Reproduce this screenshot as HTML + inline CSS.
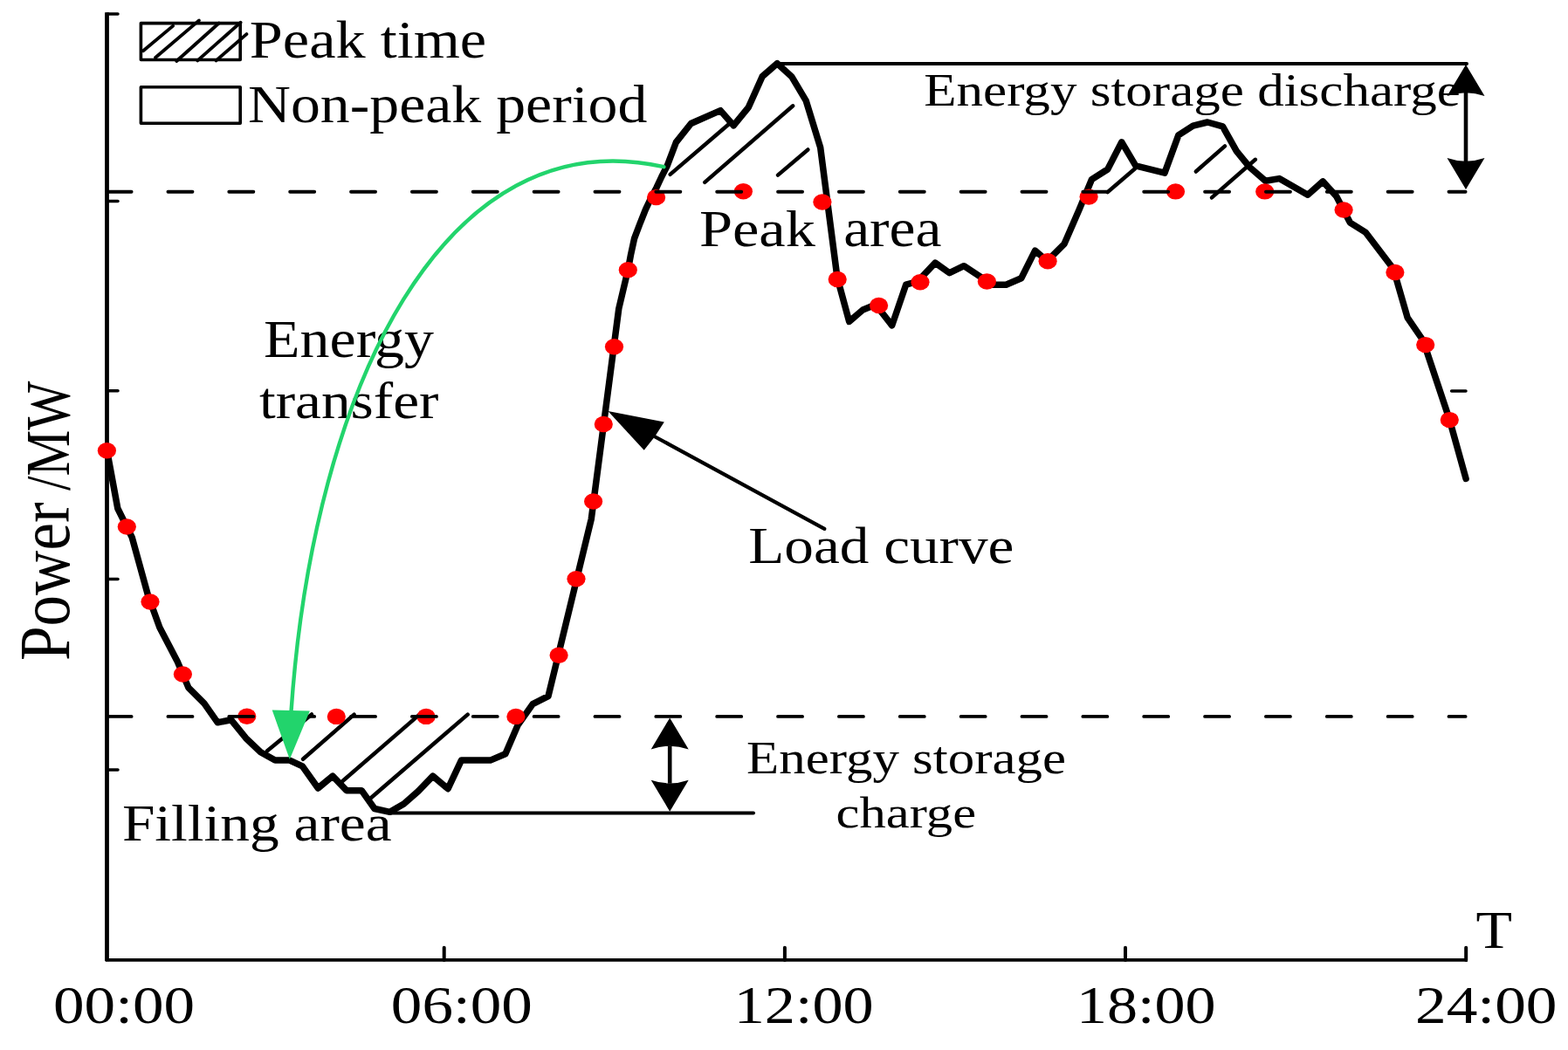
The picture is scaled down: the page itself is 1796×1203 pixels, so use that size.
<!DOCTYPE html><html><head><meta charset="utf-8"><style>html,body{margin:0;padding:0;background:#fff;overflow:hidden}svg{display:block}text{font-family:"Liberation Serif","Times New Roman",serif;font-size:100px;fill:#000}</style></head><body>
<svg width="1796" height="1203" viewBox="0 0 1796 1203">
<rect width="100%" height="100%" fill="#fff"/>
<g stroke="#000" fill="none" stroke-linecap="round">
<line x1="122.5" y1="14.3" x2="122.5" y2="1101.2" stroke-width="4.8" stroke-linecap="butt"/>
<line x1="121" y1="1099.9" x2="1681" y2="1099.9" stroke-width="3.9" stroke-linecap="butt"/>
<line x1="122.5" y1="16" x2="135" y2="16" stroke-width="3.5"/>
<line x1="122.5" y1="230.4" x2="135" y2="230.4" stroke-width="3.5"/>
<line x1="122.5" y1="447.8" x2="135" y2="447.8" stroke-width="3.5"/>
<line x1="122.5" y1="663.5" x2="135" y2="663.5" stroke-width="3.5"/>
<line x1="122.5" y1="881.9" x2="135" y2="881.9" stroke-width="3.5"/>
<line x1="1662.6" y1="448" x2="1679" y2="448" stroke-width="3.5"/>
<line x1="508.7" y1="1085.8" x2="508.7" y2="1099.9" stroke-width="4"/>
<line x1="898.9" y1="1085.8" x2="898.9" y2="1099.9" stroke-width="4"/>
<line x1="1289" y1="1085.8" x2="1289" y2="1099.9" stroke-width="4"/>
<line x1="1679.2" y1="1085.8" x2="1679.2" y2="1099.9" stroke-width="4"/>
</g>
<polyline points="122.5,516 134.8,582.5 151.3,615.9 169.5,682 182.9,719.1 203,757.4 215.9,787.9 233.9,805.9 249.3,827.8 264.8,824.8 281.7,845.7 298.5,861.8 315.1,871.1 331.8,871.1 346.4,877.8 364.3,903 381,889.1 396.9,905.7 414.2,905.7 429,926.5 446.6,930.3 462.6,921 479.2,906.4 495.8,889.1 513.1,903.7 528.4,871.1 561.6,871.1 578.9,863.8 592.9,831.2 610.2,806.6 628,797.7 677.3,594.6 708.8,353.5 719.3,309.2 722.5,292 726.6,273.1 732.9,256.5 739.5,239.9 745.7,226.8 752,214.9 757.8,202.5 764.2,190 774.3,163.2 791.5,141.5 825.2,126.6 840.2,143.8 857.4,122.8 873.1,87.7 890.3,72.7 906.7,87.7 923.2,115.4 939.7,169.2 959,318 972.7,368.4 988.3,355 1003,349 1021.7,372.9 1037.7,326.1 1051,322.5 1071.2,301.1 1087.6,312.7 1104.1,304.7 1136.6,326.2 1152.4,326.2 1169.8,318.7 1185.6,287.1 1199.5,299 1218.9,279.7 1236.3,239.8 1250.4,205.7 1268.7,194 1284.8,162.8 1300.8,189.8 1334,198.1 1349.8,154.9 1366.5,144.1 1383.1,140 1400.5,144.9 1416.3,173.2 1431.3,191.5 1449.6,207.3 1465.3,204.6 1497.9,223.2 1515.2,207.9 1530.5,224.6 1546.4,255.1 1564.4,266.4 1596,308 1612.1,363.8 1630,390 1660.2,480.5 1679.1,548.5" fill="none" stroke="#000" stroke-width="7.5" stroke-linejoin="round" stroke-linecap="round"/>
<g stroke="#000" stroke-width="4.5" stroke-linecap="round" fill="none">
<line x1="305.8" y1="860.5" x2="357" y2="818.5"/>
<line x1="347" y1="869.8" x2="405.6" y2="818.6"/>
<line x1="392.3" y1="895" x2="480.5" y2="818.6"/>
<line x1="424.5" y1="914.5" x2="535.7" y2="818.6"/>
<line x1="767.6" y1="199.9" x2="835.7" y2="141.5"/>
<line x1="807.2" y1="208.9" x2="908.2" y2="121.3"/>
<line x1="891" y1="200.6" x2="925.4" y2="171.5"/>
<line x1="1268.7" y1="220.1" x2="1300" y2="193.2"/>
<line x1="1369.8" y1="196.5" x2="1403" y2="167.4"/>
<line x1="1388" y1="226.4" x2="1437.9" y2="182.8"/>
</g>
<g fill="#ff0000">
<ellipse cx="122.4" cy="516.2" rx="10.6" ry="9.2"/>
<ellipse cx="145.3" cy="603.5" rx="10.6" ry="9.2"/>
<ellipse cx="172" cy="689.5" rx="10.6" ry="9.2"/>
<ellipse cx="209.4" cy="772.5" rx="10.6" ry="9.2"/>
<ellipse cx="282.8" cy="820.8" rx="10.6" ry="9.2"/>
<ellipse cx="385.3" cy="820.9" rx="10.6" ry="9.2"/>
<ellipse cx="488.1" cy="820.9" rx="10.6" ry="9.2"/>
<ellipse cx="590.9" cy="820.9" rx="10.6" ry="9.2"/>
<ellipse cx="640.1" cy="750.8" rx="10.6" ry="9.2"/>
<ellipse cx="660" cy="663.3" rx="10.6" ry="9.2"/>
<ellipse cx="679.6" cy="574.5" rx="10.6" ry="9.2"/>
<ellipse cx="691.3" cy="486" rx="10.6" ry="9.2"/>
<ellipse cx="703.5" cy="397.2" rx="10.6" ry="9.2"/>
<ellipse cx="719.3" cy="309.2" rx="10.6" ry="9.2"/>
<ellipse cx="751.6" cy="226.1" rx="10.6" ry="9.2"/>
<ellipse cx="851.4" cy="219.3" rx="10.6" ry="9.2"/>
<ellipse cx="941.9" cy="231.5" rx="10.6" ry="9.2"/>
<ellipse cx="959.2" cy="320" rx="10.6" ry="9.2"/>
<ellipse cx="1006.6" cy="350" rx="10.6" ry="9.2"/>
<ellipse cx="1054" cy="323.2" rx="10.6" ry="9.2"/>
<ellipse cx="1130.4" cy="322.5" rx="10.6" ry="9.2"/>
<ellipse cx="1200.1" cy="299.3" rx="10.6" ry="9.2"/>
<ellipse cx="1247.1" cy="225.6" rx="10.6" ry="9.2"/>
<ellipse cx="1346.5" cy="219.4" rx="10.6" ry="9.2"/>
<ellipse cx="1448.7" cy="219.4" rx="10.6" ry="9.2"/>
<ellipse cx="1539.1" cy="240.5" rx="10.6" ry="9.2"/>
<ellipse cx="1597.9" cy="312" rx="10.6" ry="9.2"/>
<ellipse cx="1632.7" cy="395.1" rx="10.6" ry="9.2"/>
<ellipse cx="1660.3" cy="481.1" rx="10.6" ry="9.2"/>
</g>
<g stroke="#000" stroke-width="3.9" stroke-linecap="round" fill="none">
<path d="M122.6 219.7H1678.6" stroke-dasharray="28 41.86"/>
<path d="M122.6 820.9H1678.6" stroke-dasharray="28 41.86"/>
</g>
<g stroke="#000" stroke-width="3.6" fill="none" stroke-linecap="round" stroke-linejoin="round">
<rect x="161.4" y="26.6" width="113.8" height="41.9"/>
<rect x="161.4" y="99.8" width="113.8" height="41.4"/>
<line x1="164.0" y1="58.2" x2="198.2" y2="29.6" stroke-width="3.8"/>
<line x1="178.0" y1="66.0" x2="228.0" y2="23.4" stroke-width="3.8"/>
<line x1="202.2" y1="70.0" x2="250.8" y2="26.5" stroke-width="3.8"/>
<line x1="226.3" y1="69.4" x2="275.6" y2="25.7" stroke-width="3.8"/>
<line x1="247.6" y1="69.4" x2="282.4" y2="39.1" stroke-width="3.8"/>
</g>
<g stroke="#000" stroke-width="4" stroke-linecap="round">
<line x1="890.3" y1="73" x2="1680" y2="73"/>
<line x1="446.6" y1="931.6" x2="863" y2="931.6"/>
</g>
<line x1="1679" y1="106" x2="1679" y2="185" stroke="#000" stroke-width="4.6"/>
<path d="M1679 74 L1700.5 110 Q1679 102.6 1657.5 110 Z" fill="#000"/>
<path d="M1679 217 L1700.5 181 Q1679 188.4 1657.5 181 Z" fill="#000"/>
<line x1="767.2" y1="854.4" x2="767.2" y2="897.7" stroke="#000" stroke-width="4.6"/>
<path d="M767.2 822.4 L788.7 858.4 Q767.2 851.0 745.7 858.4 Z" fill="#000"/>
<path d="M767.2 929.7 L788.7 893.7 Q767.2 901.1 745.7 893.7 Z" fill="#000"/>
<line x1="944.3" y1="605.9" x2="745" y2="497.5" stroke="#000" stroke-width="4.2" stroke-linecap="round"/>
<path d="M696.4 471 L760.8 483.5 L750.2 499.9 L737.7 515.8 Z" fill="#000"/>
<g>
<text transform="translate(285.85,65.70) scale(0.6832,0.6076)">Peak time</text>
<text transform="translate(283.97,140.40) scale(0.6779,0.6168)">Non-peak period</text>
<text transform="translate(1058.27,121.30) scale(0.6104,0.5298)">Energy storage discharge</text>
<text transform="translate(800.95,281.80) scale(0.6841,0.5985)">Peak</text>
<text transform="translate(966.14,282.1) scale(0.6749,0.6043)">area</text>
<text transform="translate(302.06,409.00) scale(0.6797,0.6076)">Energy</text>
<text transform="translate(296.93,478.80) scale(0.6731,0.5872)">transfer</text>
<text transform="translate(857.28,644.90) scale(0.6722,0.5985)">Load curve</text>
<text transform="translate(855.07,885.80) scale(0.6094,0.5328)">Energy storage</text>
<text transform="translate(957.57,948.30) scale(0.6066,0.5079)">charge</text>
<text transform="translate(139.88,962.80) scale(0.6740,0.6000)">Filling area</text>
<text transform="translate(61.05,1172.18) scale(0.7114,0.6132)">00:00</text>
<text transform="translate(447.86,1172.18) scale(0.7109,0.6132)">06:00</text>
<text transform="translate(840.68,1172.28) scale(0.7023,0.6118)">12:00</text>
<text transform="translate(1232.90,1172.49) scale(0.7005,0.6088)">18:00</text>
<text transform="translate(1620.99,1172.49) scale(0.7134,0.6059)">24:00</text>
<text transform="translate(1690.54,1086.40) scale(0.6800,0.6168)">T</text>
<text transform="translate(79.40,756.93) rotate(-90) scale(0.7105,0.8244)">Power</text>
<text transform="translate(78.90,562.10) rotate(-90) scale(0.5943,0.7115)">/MW</text>
</g>
<path d="M760.4 191.2 C509 134.7 359 444.8 333.6 814" fill="none" stroke="#22d46c" stroke-width="4.4" stroke-linecap="round"/>
<path d="M311.7 813.6 L354.9 814.5 L331.8 870.1 Z" fill="#22d46c"/>
</svg></body></html>
